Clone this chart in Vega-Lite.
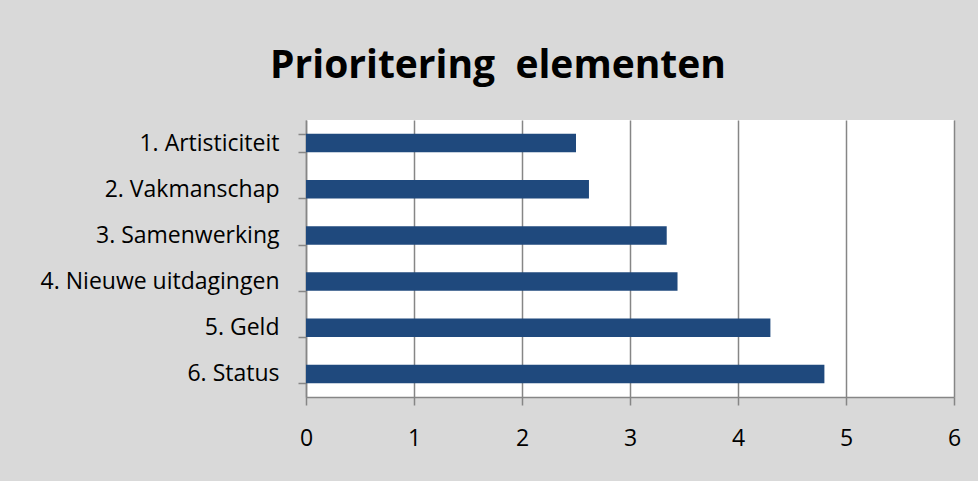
{
  "$schema": "https://vega.github.io/schema/vega-lite/v6.json",
  "autosize": "none",
  "width": 648,
  "height": 277,
  "padding": {"left": 306, "top": 120, "right": 24, "bottom": 84},
  "background": "#d9d9d9",
  "title": {
    "text": "Prioritering\u00a0 elementen",
    "font": "Open Sans",
    "fontSize": 39,
    "fontWeight": "bold",
    "color": "#000000",
    "anchor": "middle",
    "dx": -132,
    "baseline": "alphabetic",
    "offset": -8
  },
  "data": {
    "values": [
      {"element": "1. Artisticiteit", "score": 2.5},
      {"element": "2. Vakmanschap", "score": 2.62},
      {"element": "3. Samenwerking", "score": 3.34},
      {"element": "4. Nieuwe uitdagingen", "score": 3.44},
      {"element": "5. Geld", "score": 4.3},
      {"element": "6. Status", "score": 4.8}
    ]
  },
  "mark": {"type": "bar", "color": "#1f497d"},
  "encoding": {
    "y": {
      "field": "element",
      "type": "nominal",
      "sort": null,
      "title": null,
      "scale": {"paddingInner": 0.6, "paddingOuter": 0.3},
      "axis": {
        "tickBand": "extent",
        "grid": false,
        "domainColor": "#868686",
        "domainWidth": 1.5,
        "tickColor": "#868686",
        "tickWidth": 1.5,
        "tickSize": 8,
        "labelPadding": 19,
        "labelFont": "Open Sans",
        "labelFontSize": 23,
        "labelColor": "#000000",
        "labelLimit": 400
      }
    },
    "x": {
      "field": "score",
      "type": "quantitative",
      "title": null,
      "scale": {"domain": [0, 6], "nice": false},
      "axis": {
        "values": [0, 1, 2, 3, 4, 5, 6],
        "grid": true,
        "gridColor": "#868686",
        "gridWidth": 1.5,
        "domainColor": "#868686",
        "domainWidth": 1.5,
        "tickColor": "#868686",
        "tickWidth": 1.5,
        "tickSize": 8,
        "labelPadding": 22,
        "labelFont": "Open Sans",
        "labelFontSize": 23,
        "labelColor": "#000000",
        "labelFlush": false
      }
    }
  },
  "config": {
    "view": {"stroke": null, "fill": "#ffffff"}
  }
}
